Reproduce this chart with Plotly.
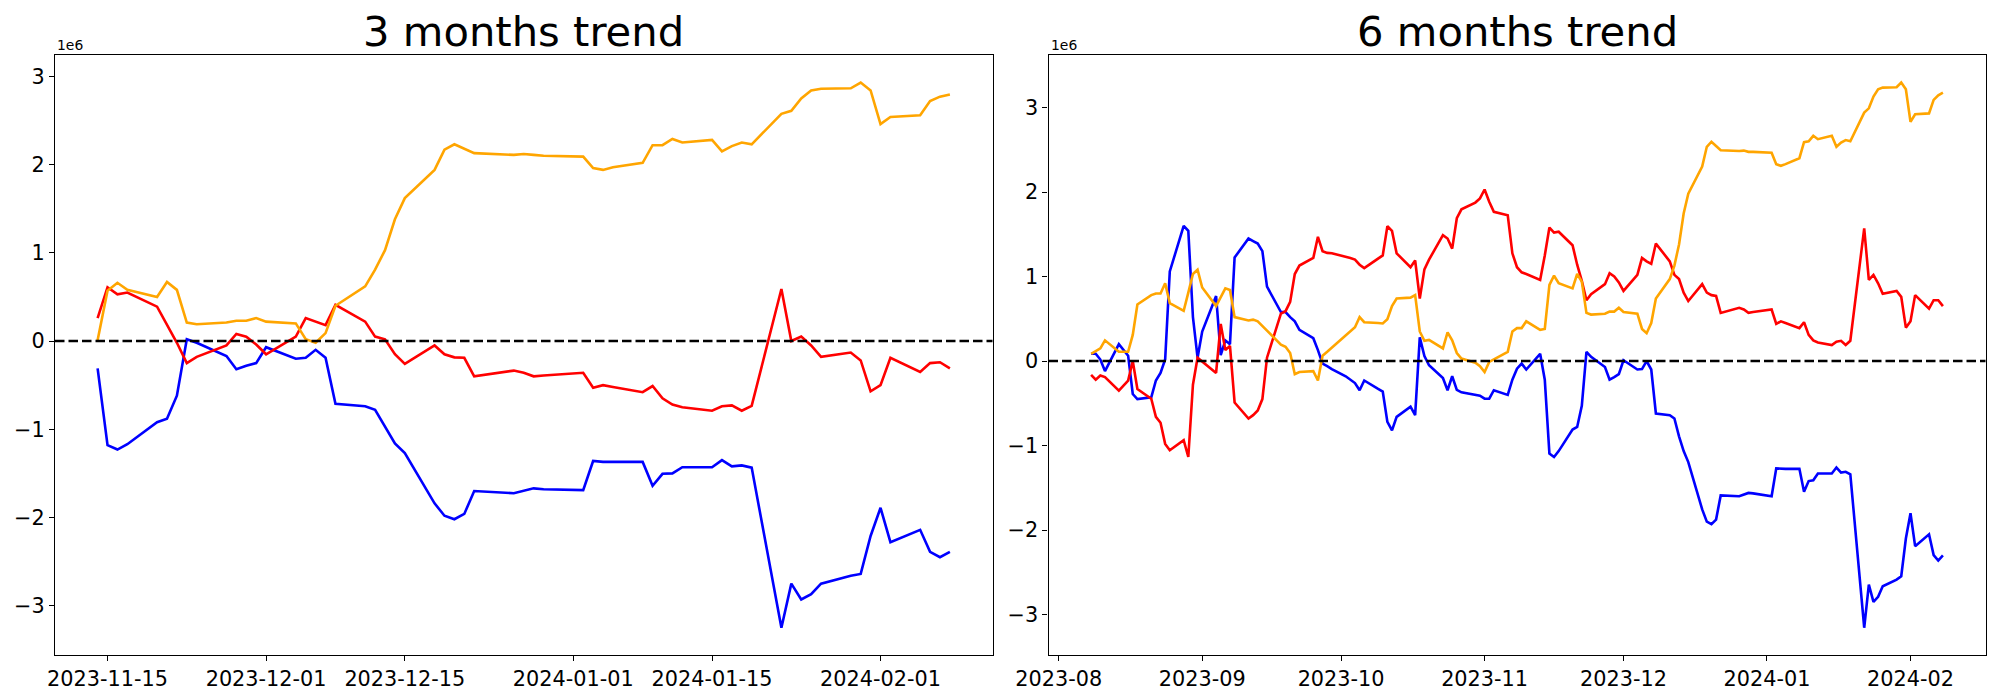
import pandas as pd
import plotly.graph_objects as go

# ---------------- 3 months data (values in units of 1e6) ----------------
days3 = {
    "2023-11": [14, 15, 16, 17, 20, 21, 22, 23, 24, 27, 28, 29, 30],
    "2023-12": [1, 4, 5, 6, 7, 8, 11, 12, 13, 14, 15, 18, 19, 20, 21, 22, 26, 27, 28, 29],
    "2024-01": [2, 3, 4, 5, 8, 9, 10, 11, 12, 15, 16, 17, 18, 19, 22, 23, 24, 25, 26, 29, 30, 31],
    "2024-02": [1, 2, 5, 6, 7, 8],
}
blue3 = [-0.31, -1.18, -1.23, -1.17, -0.92, -0.88, -0.62, 0.02, -0.02, -0.17, -0.32, -0.28, -0.25,
         -0.07, -0.20, -0.19, -0.10, -0.19, -0.71, -0.74, -0.78, -0.97, -1.16, -1.27, -1.84, -1.98, -2.02, -1.96, -1.70, -1.725, -1.70, -1.67, -1.68,
         -1.69, -1.36, -1.37, -1.37, -1.37, -1.64, -1.505, -1.50, -1.43, -1.43, -1.35, -1.42, -1.41, -1.435, -3.25, -2.75, -2.93, -2.87, -2.75, -2.66, -2.64, -2.21,
         -1.89, -2.28, -2.14, -2.39, -2.45, -2.39]
red3 = [0.26, 0.61, 0.53, 0.55, 0.39, 0.18, -0.02, -0.25, -0.18, -0.05, 0.08, 0.05, -0.04,
        -0.15, 0.05, 0.26, 0.22, 0.18, 0.41, 0.22, 0.05, 0.02, -0.15, -0.26, -0.05, -0.15, -0.185, -0.19, -0.40, -0.335, -0.36, -0.40, -0.39,
        -0.36, -0.53, -0.50, -0.52, -0.58, -0.51, -0.65, -0.72, -0.75, -0.79, -0.74, -0.73, -0.79, -0.735, 0.59, 0.00, 0.05, -0.05, -0.18, -0.13, -0.22, -0.57,
        -0.50, -0.19, -0.35, -0.25, -0.24, -0.31]
orange3 = [0.01, 0.57, 0.66, 0.58, 0.50, 0.67, 0.58, 0.21, 0.19, 0.21, 0.23, 0.23, 0.26,
           0.22, 0.20, 0.02, -0.02, 0.09, 0.40, 0.62, 0.81, 1.03, 1.38, 1.62, 1.94, 2.17, 2.23, 2.18, 2.13, 2.11, 2.12, 2.11, 2.10,
           2.09, 1.96, 1.94, 1.97, 2.02, 2.22, 2.22, 2.29, 2.25, 2.28, 2.15, 2.21, 2.25, 2.23, 2.575, 2.61, 2.75, 2.84, 2.86, 2.865, 2.93, 2.84,
           2.46, 2.54, 2.56, 2.72, 2.77, 2.795]

# ---------------- 6 months data (values in units of 1e6) ----------------
days6 = {
    "2023-08": [8, 9, 10, 11, 14, 15, 16, 17, 18, 21, 22, 23, 24, 25, 28, 29, 30, 31],
    "2023-09": [1, 4, 5, 6, 7, 8, 11, 12, 13, 14, 15, 18, 19, 20, 21, 22, 25, 26, 27, 28, 29],
    "2023-10": [2, 3, 4, 5, 6, 9, 10, 11, 12, 13, 16, 17, 18, 19, 20, 23, 24, 25, 26, 27, 30, 31],
    "2023-11": [1, 2, 3, 6, 7, 8, 9, 10, 13, 14, 15, 16, 17, 20, 21, 22, 23, 24, 27, 28, 29, 30],
    "2023-12": [1, 4, 5, 6, 7, 8, 11, 12, 13, 14, 15, 18, 19, 20, 21, 22, 26, 27, 28, 29],
    "2024-01": [2, 3, 4, 5, 8, 9, 10, 11, 12, 15, 16, 17, 18, 19, 22, 23, 24, 25, 26, 29, 30, 31],
    "2024-02": [1, 2, 5, 6, 7, 8],
}
blue6 = [0.086, 0.086, 0.018, -0.118, 0.20, 0.13, 0.064, -0.39, -0.45, -0.43, -0.23, -0.14, 0.02, 1.06, 1.60, 1.54, 0.52, 0.04,
         0.35, 0.77, 0.07, 0.245, 0.20, 1.225, 1.45, 1.42, 1.39, 1.30, 0.88, 0.58, 0.58, 0.52, 0.47, 0.37, 0.27, 0.13, -0.03, -0.06, -0.095,
         -0.18, -0.22, -0.26, -0.345, -0.23, -0.33, -0.36, -0.72, -0.82, -0.66, -0.54, -0.64, 0.28, 0.06, -0.05, -0.20, -0.345, -0.18, -0.34, -0.37, -0.40, -0.41,
         -0.445, -0.445, -0.345, -0.40, -0.22, -0.09, -0.03, -0.10, 0.086, -0.22, -1.095, -1.135, -1.065, -0.81, -0.78, -0.53, 0.11, 0.05, -0.07, -0.22, -0.19, -0.155,
         0.01, -0.10, -0.095, 0.00, -0.10, -0.62, -0.64, -0.68, -0.89, -1.065, -1.195, -1.755, -1.90, -1.93, -1.875, -1.59, -1.60, -1.58, -1.56, -1.565,
         -1.60, -1.27, -1.275, -1.275, -1.275, -1.545, -1.42, -1.41, -1.33, -1.33, -1.26, -1.32, -1.31, -1.34, -3.155, -2.645, -2.85, -2.79, -2.665, -2.585, -2.545, -2.10,
         -1.80, -2.19, -2.05, -2.295, -2.36, -2.30]
red6 = [-0.163, -0.22, -0.17, -0.19, -0.35, -0.29, -0.23, 0.0, -0.33, -0.445, -0.66, -0.73, -0.98, -1.055, -0.935, -1.135, -0.28, 0.04,
        -0.005, -0.14, 0.44, 0.13, 0.18, -0.49, -0.68, -0.64, -0.585, -0.45, 0.04, 0.56, 0.59, 0.70, 1.03, 1.13, 1.22, 1.47, 1.30, 1.28, 1.275,
        1.24, 1.22, 1.20, 1.14, 1.10, 1.21, 1.25, 1.595, 1.54, 1.275, 1.11, 1.19, 0.74, 1.085, 1.20, 1.49, 1.45, 1.33, 1.69, 1.795, 1.875, 1.925,
        2.03, 1.885, 1.765, 1.725, 1.275, 1.11, 1.05, 1.03, 0.96, 1.25, 1.58, 1.52, 1.53, 1.37, 1.14, 0.95, 0.72, 0.79, 0.91, 1.04, 1.00, 0.93,
        0.83, 1.02, 1.22, 1.18, 1.15, 1.39, 1.18, 1.02, 0.97, 0.81, 0.71, 0.91, 0.81, 0.78, 0.77, 0.57, 0.63, 0.61, 0.57, 0.58,
        0.61, 0.44, 0.47, 0.45, 0.39, 0.46, 0.31, 0.245, 0.22, 0.19, 0.23, 0.24, 0.19, 0.24, 1.57, 0.96, 1.02, 0.92, 0.795, 0.83, 0.76, 0.395,
        0.47, 0.78, 0.62, 0.72, 0.72, 0.65]
orange6 = [0.086, 0.12, 0.15, 0.245, 0.11, 0.11, 0.11, 0.31, 0.67, 0.78, 0.80, 0.80, 0.92, 0.685, 0.595, 0.81, 1.03, 1.08,
           0.87, 0.65, 0.76, 0.86, 0.84, 0.52, 0.48, 0.49, 0.47, 0.42, 0.36, 0.195, 0.17, 0.095, -0.155, -0.13, -0.12, -0.23, 0.064, 0.11, 0.16,
           0.31, 0.36, 0.40, 0.52, 0.46, 0.45, 0.445, 0.495, 0.65, 0.74, 0.75, 0.78, 0.35, 0.24, 0.25, 0.15, 0.34, 0.245, 0.095, 0.03, -0.02, -0.06,
           -0.13, -0.01, 0.02, 0.11, 0.35, 0.39, 0.39, 0.47, 0.37, 0.38, 0.90, 1.01, 0.92, 0.86, 1.03, 0.94, 0.57, 0.55, 0.56, 0.585, 0.585, 0.63,
           0.58, 0.56, 0.38, 0.33, 0.45, 0.74, 0.97, 1.13, 1.38, 1.745, 1.98, 2.30, 2.535, 2.595, 2.545, 2.495, 2.485, 2.49, 2.475, 2.475,
           2.465, 2.33, 2.31, 2.33, 2.40, 2.59, 2.60, 2.665, 2.625, 2.665, 2.535, 2.585, 2.615, 2.60, 2.94, 2.99, 3.13, 3.215, 3.235, 3.24, 3.295, 3.215,
           2.83, 2.92, 2.93, 3.09, 3.145, 3.175]

ticks3 = ["2023-11-15", "2023-12-01", "2023-12-15", "2024-01-01", "2024-01-15", "2024-02-01"]
ticks6 = ["2023-08-01", "2023-09-01", "2023-10-01", "2023-11-01", "2023-12-01", "2024-01-01", "2024-02-01"]
ticks6_text = ["2023-08", "2023-09", "2023-10", "2023-11", "2023-12", "2024-01", "2024-02"]
yticks = [-3, -2, -1, 0, 1, 2, 3]


def to_dates(dct):
    out = []
    for ym, ds in dct.items():
        out += [pd.Timestamp(f"{ym}-{d:02d}") for d in ds]
    return out


dates3 = to_dates(days3)
dates6 = to_dates(days6)

W, H = 2000, 700
FONT = "DejaVu Sans"
LW = 2.6
fig = go.Figure()

for (vals, col) in [(blue3, "blue"), (red3, "red"), (orange3, "orange")]:
    fig.add_trace(go.Scatter(x=dates3, y=vals, mode="lines", line=dict(color=col, width=LW),
                             xaxis="x", yaxis="y", showlegend=False))
for (vals, col) in [(blue6, "blue"), (red6, "red"), (orange6, "orange")]:
    fig.add_trace(go.Scatter(x=dates6, y=vals, mode="lines", line=dict(color=col, width=LW),
                             xaxis="x2", yaxis="y2", showlegend=False))


def xr(dates):
    span = dates[-1] - dates[0]
    return [dates[0] - 0.05 * span, dates[-1] + 0.05 * span]


def yr(*lists):
    lo = min(min(l) for l in lists)
    hi = max(max(l) for l in lists)
    s = hi - lo
    return [lo - 0.05 * s, hi + 0.05 * s]


dom1 = [55 / W, 992.5 / W]
dom2 = [1048.5 / W, 1985.5 / W]
ydom = [45 / H, 644.7 / H]

axis_common = dict(showline=True, linecolor="black", linewidth=1.1, mirror=True, showgrid=False,
                   zeroline=False, ticks="outside", ticklen=5, tickwidth=1.1, tickcolor="black",
                   automargin=False,
                   tickfont=dict(family=FONT, size=20.8, color="black"))

fig.update_layout(
    width=W, height=H, margin=dict(l=0, r=0, t=0, b=0, autoexpand=False),
    paper_bgcolor="white", plot_bgcolor="white",
    font=dict(family=FONT, color="black"),
    xaxis=dict(domain=dom1, anchor="y", range=xr(dates3), tickmode="array",
               tickvals=[pd.Timestamp(t) for t in ticks3], ticktext=ticks3, **axis_common),
    yaxis=dict(domain=ydom, anchor="x", range=yr(blue3, red3, orange3), tickmode="array",
               tickvals=yticks, ticktext=[str(v).replace("-", "\u2212") for v in yticks], **axis_common),
    xaxis2=dict(domain=dom2, anchor="y2", range=xr(dates6), tickmode="array",
                tickvals=[pd.Timestamp(t) for t in ticks6], ticktext=ticks6_text, **axis_common),
    yaxis2=dict(domain=ydom, anchor="x2", range=yr(blue6, red6, orange6), tickmode="array",
                tickvals=yticks, ticktext=[str(v).replace("-", "\u2212") for v in yticks], **axis_common),
)

for xref, yref in [("x domain", "y"), ("x2 domain", "y2")]:
    fig.add_shape(type="line", xref=xref, yref=yref, x0=0, x1=1, y0=0, y1=0,
                  line=dict(color="black", width=2.4, dash="9.5px,4px"), layer="above")

title_y = 1 - 31.8 / H
for dom, txt in [(dom1, "3 months trend"), (dom2, "6 months trend")]:
    fig.add_annotation(text=txt, xref="paper", yref="paper", x=(dom[0] + dom[1]) / 2, y=title_y,
                       xanchor="center", yanchor="middle", showarrow=False,
                       font=dict(family=FONT, size=41.7, color="black"))
    fig.add_annotation(text="1e6", xref="paper", yref="paper", x=dom[0], y=ydom[1],
                       xanchor="left", yanchor="bottom", showarrow=False,
                       font=dict(family=FONT, size=13.9, color="black"))

fig.write_html("out.html", config={"displayModeBar": False},
               post_script="document.body.style.margin='0';document.body.style.overflow='hidden';")
